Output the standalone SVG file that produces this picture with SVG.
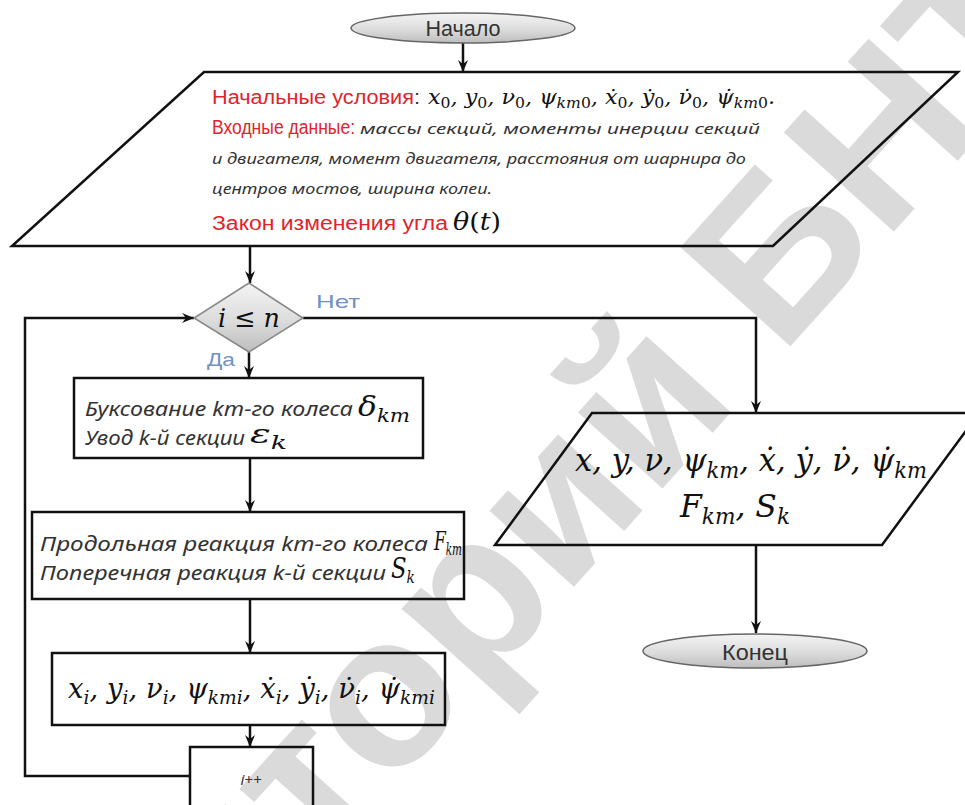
<svg xmlns="http://www.w3.org/2000/svg" width="965" height="805" viewBox="0 0 965 805">
<defs>
<linearGradient id="g" x1="0" y1="0" x2="0" y2="1">
<stop offset="0" stop-color="#f4f4f4"/>
<stop offset="0.55" stop-color="#dcdcdc"/>
<stop offset="1" stop-color="#bdbdbd"/>
</linearGradient>
<marker id="ah" viewBox="0 0 12 12" refX="12" refY="6" markerWidth="12" markerHeight="12" markerUnits="userSpaceOnUse" orient="auto">
<path d="M0,1 L12,6 L0,11 L4,6 z" fill="#111"/>
</marker>
<style>
.ln{fill:none;stroke:#111;stroke-width:2.5}
.arr{marker-end:url(#ah)}
.bx{fill:none;stroke:#111;stroke-width:2.5}
.term{fill:url(#g);stroke:#666;stroke-width:1.5}
.dia{fill:url(#g);stroke:#888;stroke-width:1.5}
.tt{font-family:"Liberation Sans",Arial,sans-serif;fill:#333;text-anchor:middle}
.red{font-family:"Liberation Sans",Arial,sans-serif;fill:#e0242c}
.it{font-family:"Noto Sans","Open Sans",sans-serif;font-style:italic;fill:#333}
.m{font-family:"DejaVu Serif",serif;font-style:italic;fill:#111}
.up{font-style:normal}
.lbl{font-family:"Liberation Sans",Arial,sans-serif;fill:#7391c4}
.wm{font-family:"Liberation Sans",Arial,sans-serif;font-weight:bold;fill:#dadada}
</style>
</defs>
<rect width="965" height="805" fill="#ffffff"/>
<text class="wm" font-size="215" text-anchor="middle" transform="translate(490,680) rotate(-48)">Репозиторий БНТУ</text>

<g id="connectors">
<path class="ln arr" d="M463,43 V72"/>
<path class="ln arr" d="M250,246 V283"/>
<path class="ln arr" d="M249,352 V378"/>
<path class="ln arr" d="M250,458 V512"/>
<path class="ln arr" d="M250,599 V653"/>
<path class="ln arr" d="M250,725 V747"/>
<path class="ln arr" d="M190,776 H25 V318 H194"/>
<path class="ln arr" d="M303,318 H756 V413"/>
<path class="ln arr" d="M756,545 V633"/>
<text class="lbl" x="316" y="308" font-size="19" textLength="44" lengthAdjust="spacingAndGlyphs">Нет</text>
<text class="lbl" x="207" y="366" font-size="19" textLength="28" lengthAdjust="spacingAndGlyphs">Да</text>
</g>

<g id="start">
<ellipse class="term" cx="463" cy="28" rx="112" ry="15"/>
<text class="tt" x="463" y="36" font-size="22" textLength="75" lengthAdjust="spacingAndGlyphs">Начало</text>
</g>

<g id="input">
<polygon class="bx" points="204,72 958,72 773,246 12,246"/>
<text class="red" x="212" y="104" font-size="20" textLength="208" lengthAdjust="spacingAndGlyphs">Начальные условия<tspan fill="#333">:</tspan></text>
<text class="m" x="428" y="104" font-size="20" textLength="347" lengthAdjust="spacingAndGlyphs">x<tspan class="up" font-size="14" dy="4">0</tspan><tspan dy="-4">, y</tspan><tspan class="up" font-size="14" dy="4">0</tspan><tspan dy="-4">, ν</tspan><tspan class="up" font-size="14" dy="4">0</tspan><tspan dy="-4">, ψ</tspan><tspan font-size="14" dy="4">km<tspan class="up">0</tspan></tspan><tspan dy="-4">, ẋ</tspan><tspan class="up" font-size="14" dy="4">0</tspan><tspan dy="-4">, ẏ</tspan><tspan class="up" font-size="14" dy="4">0</tspan><tspan dy="-4">, ν̇</tspan><tspan class="up" font-size="14" dy="4">0</tspan><tspan dy="-4">, ψ̇</tspan><tspan font-size="14" dy="4">km<tspan class="up">0</tspan></tspan><tspan dy="-4">.</tspan></text>
<text class="red" x="212" y="134" font-size="20" textLength="143" lengthAdjust="spacingAndGlyphs">Входные данные:</text>
<text class="it" x="360" y="134" font-size="15" textLength="400" lengthAdjust="spacingAndGlyphs">массы секций, моменты инерции секций</text>
<text class="it" x="212" y="164" font-size="15" textLength="534" lengthAdjust="spacingAndGlyphs">и двигателя, момент двигателя, расстояния от шарнира до</text>
<text class="it" x="212" y="194" font-size="15" textLength="280" lengthAdjust="spacingAndGlyphs">центров мостов, ширина колеи.</text>
<text class="red" x="212" y="230" font-size="20" textLength="236" lengthAdjust="spacingAndGlyphs">Закон изменения угла</text>
<text class="m" x="453" y="230" font-size="24" textLength="48" lengthAdjust="spacingAndGlyphs">θ<tspan class="up">(</tspan>t<tspan class="up">)</tspan></text>
</g>

<g id="decision">
<polygon class="dia" points="249,283 303,318 249,352 194,318"/>
<text class="m" x="249" y="327" font-size="26" text-anchor="middle" fill="#333" textLength="62" lengthAdjust="spacingAndGlyphs">i <tspan class="up">≤</tspan> n</text>
</g>

<g id="slip">
<rect class="bx" x="74" y="378" width="349" height="80"/>
<text class="it" x="85" y="416" font-size="20" textLength="268" lengthAdjust="spacingAndGlyphs">Буксование km-го колеса</text>
<text class="m" x="358" y="416" font-size="28" textLength="52" lengthAdjust="spacingAndGlyphs">δ<tspan font-size="19" dy="6">km</tspan></text>
<text class="it" x="85" y="445" font-size="20" textLength="160" lengthAdjust="spacingAndGlyphs">Увод k-й секции</text>
<text class="m" x="250" y="443" font-size="26" textLength="37" lengthAdjust="spacingAndGlyphs">ε<tspan font-size="18" dy="6">k</tspan></text>
</g>

<g id="reactions">
<rect class="bx" x="32" y="512" width="432" height="87"/>
<text class="it" x="40" y="551" font-size="20" textLength="388" lengthAdjust="spacingAndGlyphs">Продольная реакция km-го колеса</text>
<text class="m" x="434" y="550" font-size="26" textLength="28" lengthAdjust="spacingAndGlyphs">F<tspan font-size="16" dy="5">km</tspan></text>
<text class="it" x="40" y="580" font-size="20" textLength="346" lengthAdjust="spacingAndGlyphs">Поперечная реакция k-й секции</text>
<text class="m" x="391" y="578" font-size="28" textLength="24" lengthAdjust="spacingAndGlyphs">S<tspan font-size="17" dy="5">k</tspan></text>
</g>

<g id="state">
<rect class="bx" x="52" y="653" width="393" height="72"/>
<text class="m" x="68" y="698" font-size="28" textLength="367" lengthAdjust="spacingAndGlyphs">x<tspan font-size="19" dy="6">i</tspan><tspan dy="-6">, y</tspan><tspan font-size="19" dy="6">i</tspan><tspan dy="-6">, ν</tspan><tspan font-size="19" dy="6">i</tspan><tspan dy="-6">, ψ</tspan><tspan font-size="19" dy="6">kmi</tspan><tspan dy="-6">, ẋ</tspan><tspan font-size="19" dy="6">i</tspan><tspan dy="-6">, ẏ</tspan><tspan font-size="19" dy="6">i</tspan><tspan dy="-6">, ν̇</tspan><tspan font-size="19" dy="6">i</tspan><tspan dy="-6">, ψ̇</tspan><tspan font-size="19" dy="6">kmi</tspan></text>
</g>

<g id="increment">
<rect class="bx" x="190" y="747" width="123" height="80"/>
<text class="it" x="251" y="785" font-size="15" text-anchor="middle">i++</text>
</g>

<g id="output">
<polygon class="bx" points="592,413 979,413 882,545 495,545"/>
<text class="m" x="575" y="471" font-size="32" textLength="352" lengthAdjust="spacingAndGlyphs">x, y, ν, ψ<tspan font-size="22" dy="7">km</tspan><tspan dy="-7">, ẋ, ẏ, ν̇, ψ̇</tspan><tspan font-size="22" dy="7">km</tspan></text>
<text class="m" x="680" y="517" font-size="32" textLength="110" lengthAdjust="spacingAndGlyphs">F<tspan font-size="22" dy="7">km</tspan><tspan dy="-7">, S</tspan><tspan font-size="22" dy="7">k</tspan></text>
</g>

<g id="end">
<ellipse class="term" cx="755" cy="651" rx="112" ry="17"/>
<text class="tt" x="755" y="660" font-size="22" textLength="66" lengthAdjust="spacingAndGlyphs">Конец</text>
</g>
</svg>
